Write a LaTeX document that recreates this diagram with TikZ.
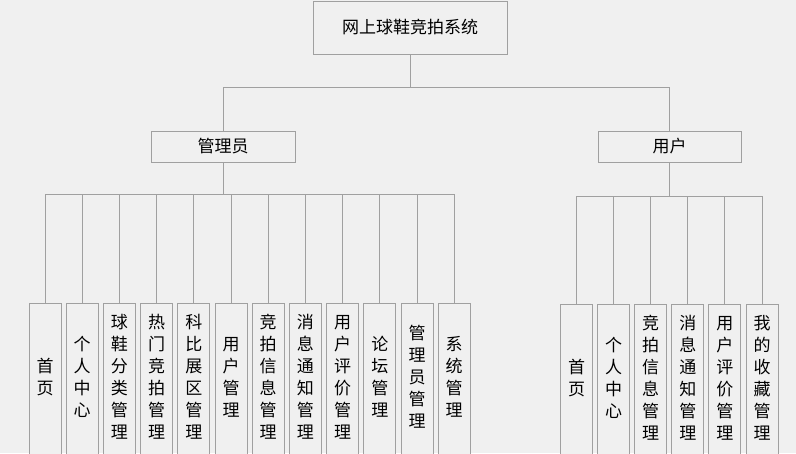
\documentclass[tikz,border=0pt]{standalone}
\usepackage{fontspec}
\newfontfamily\cjk{Noto Sans CJK SC}
\definecolor{bg}{HTML}{F0F0F0}
\definecolor{ln}{HTML}{A0A0A0}
\begin{document}
\begin{tikzpicture}[x=1pt,y=-1pt,
  box/.style={draw=ln, line width=1pt, fill=bg, inner sep=0pt, font=\cjk\fontsize{17}{20}\selectfont},
  leafbox/.style={draw=ln, line width=1pt, fill=bg, minimum width=32pt, minimum height=156pt, anchor=north, inner sep=0pt},
  leaftext/.style={font=\cjk\fontsize{17}{22}\selectfont, align=center, inner sep=0pt},
  conn/.style={draw=ln, line width=1pt}]
\useasboundingbox (0,0) rectangle (796,453);
\clip (0,0) rectangle (796,453);
\fill[bg] (0,0) rectangle (796,453);
% top levels
\node[box, minimum width=194pt, minimum height=53pt] (root) at (410,27.5) {网上球鞋竞拍系统};
\node[box, minimum width=144pt, minimum height=31pt] (adm) at (223,146.5) {管理员};
\node[box, minimum width=143pt, minimum height=31pt] (usr) at (669.5,146.5) {用户};
\coordinate (j0) at (410,87);
\coordinate (ja) at (0,194);
\coordinate (ju) at (0,196);
\draw[conn] (root.south) -- (j0);
\draw[conn] (adm.north) -- (adm.north |- j0) -- (usr.north |- j0) -- (usr.north);
% admin leaves
\foreach \t [count=\i from 0] in {{首\\页},{个\\人\\中\\心},{球\\鞋\\分\\类\\管\\理},{热\\门\\竞\\拍\\管\\理},{科\\比\\展\\区\\管\\理},{用\\户\\管\\理},{竞\\拍\\信\\息\\管\\理},{消\\息\\通\\知\\管\\理},{用\\户\\评\\价\\管\\理},{论\\坛\\管\\理},{管\\理\\员\\管\\理},{系\\统\\管\\理}}{
  \node[leafbox] (a\i) at ({45+37.2*\i},303) {};
  \node[leaftext] (at\i) at ({45+37.2*\i},377) {\t};
  \draw[conn] (a\i.north) -- (a\i.north |- ja);
}
\draw[conn] (a0.north |- ja) -- (a11.north |- ja);
\draw[conn] (adm.south) -- (adm.south |- ja);
% user leaves
\foreach \t [count=\i from 0] in {{首\\页},{个\\人\\中\\心},{竞\\拍\\信\\息\\管\\理},{消\\息\\通\\知\\管\\理},{用\\户\\评\\价\\管\\理},{我\\的\\收\\藏\\管\\理}}{
  \node[leafbox] (u\i) at ({576.5+37.1*\i},304) {};
  \node[leaftext] (ut\i) at ({576.5+37.1*\i},378) {\t};
  \draw[conn] (u\i.north) -- (u\i.north |- ju);
}
\draw[conn] (u0.north |- ju) -- (u5.north |- ju);
\draw[conn] (usr.south) -- (usr.south |- ju);
\end{tikzpicture}
\end{document}
